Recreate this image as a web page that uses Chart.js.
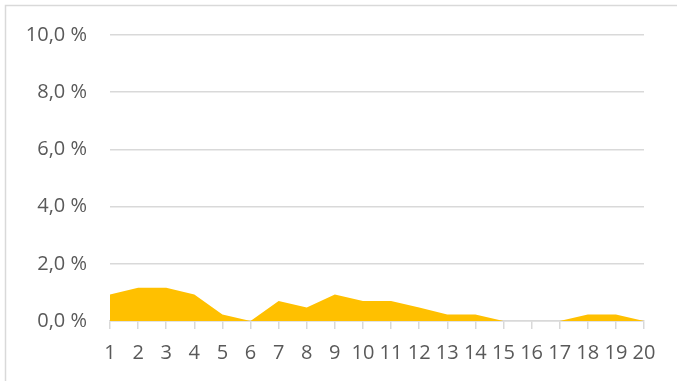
<!DOCTYPE html>
<html>
<head>
<meta charset="utf-8">
<script src="https://cdn.jsdelivr.net/npm/chart.js@4"></script>
<style>
  html, body { margin: 0; padding: 0; background: #fff; }
  #wrap { position: relative; width: 677px; height: 381px; }
</style>
</head>
<body>
<div id="wrap"><canvas id="c" width="677" height="381"></canvas></div>
<script>
// Categories along the x axis
const categories = ['1','2','3','4','5','6','7','8','9','10','11','12','13','14','15','16','17','18','19','20'];
// Share per category, in percent
const shares = [0.93, 1.16, 1.16, 0.93, 0.23, 0, 0.70, 0.47, 0.93, 0.70, 0.70, 0.47, 0.23, 0.23, 0, 0, 0, 0.23, 0.23, 0];
// Value axis ticks
const yTicks = [0, 2, 4, 6, 8, 10];

const grey = '#d9d9d9';
const textColor = '#595959';
const font = { family: '"Open Sans", "Noto Sans", sans-serif', size: 20 };

// Outer frame of the chart box
const framePlugin = {
  id: 'frame',
  beforeDraw(chart) {
    const ctx = chart.ctx;
    ctx.save();
    ctx.strokeStyle = grey;
    ctx.lineWidth = 1.5;
    ctx.beginPath();
    ctx.moveTo(5.5, chart.height);
    ctx.lineTo(5.5, 5.5);
    ctx.lineTo(chart.width, 5.5);
    ctx.stroke();
    ctx.restore();
  }
};

new Chart(document.getElementById('c'), {
  type: 'line',
  data: {
    labels: categories,
    datasets: [{
      data: shares,
      fill: 'origin',
      backgroundColor: '#FFC000',
      borderWidth: 0,
      borderColor: 'rgba(0,0,0,0)',
      pointRadius: 0,
      tension: 0
    }]
  },
  options: {
    responsive: false,
    animation: false,
    layout: { padding: { top: 35, right: 33, bottom: 0, left: 0 } },
    plugins: { legend: { display: false }, tooltip: { enabled: false } },
    scales: {
      x: {
        offset: false,
        grid: { drawOnChartArea: false, drawTicks: true, tickLength: 8, color: grey, lineWidth: 1.5 },
        border: { display: true, color: grey, width: 1.5 },
        ticks: { color: textColor, font: font, padding: 12, maxRotation: 0, autoSkip: false },
        afterFit(s) { s.height = 60; }
      },
      y: {
        min: 0,
        max: 10,
        afterBuildTicks(s) { s.ticks = yTicks.map(v => ({ value: v })); },
        grid: { drawTicks: false, color: grey, lineWidth: 1.5 },
        border: { display: false },
        ticks: {
          color: textColor,
          font: font,
          padding: 23,
          callback: v => v.toFixed(1).replace('.', ',') + ' %'
        },
        afterFit(s) { s.width = 110; }
      }
    }
  },
  plugins: [framePlugin]
});
</script>
</body>
</html>
